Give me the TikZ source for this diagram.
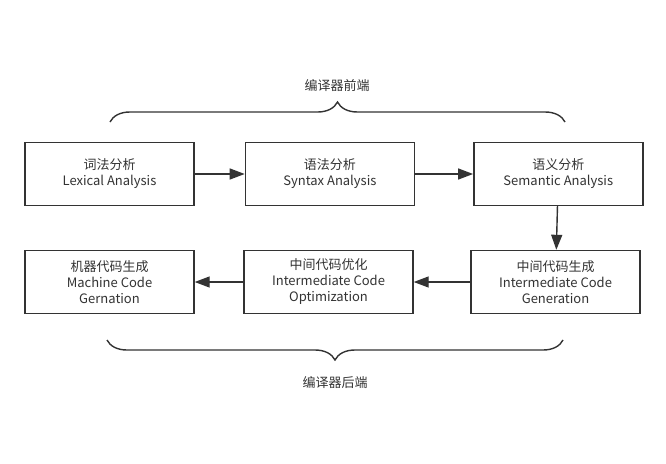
\documentclass[tikz,border=0pt]{standalone}
\usepackage{fontspec}
\setmainfont{Noto Sans CJK SC}
\usetikzlibrary{positioning, arrows.meta, decorations.pathreplacing}
\definecolor{linegray}{HTML}{333333}

\begin{document}
\begin{tikzpicture}[x=1pt,y=-1pt,>={Triangle[length=15pt,width=11pt]},semithick,
    stage/.style={draw=linegray,line width=1.4pt,fill=white,minimum width=169pt,minimum height=63pt,
        align=center,font=\fontsize{13}{16}\selectfont,text=linegray,inner sep=0pt},
    flow/.style={->,draw=linegray,line width=1.4pt},
    bracket/.style={draw=linegray,line width=1.4pt,decorate,decoration={brace,amplitude=20pt}},
    caption/.style={font=\fontsize{13}{16}\selectfont,text=linegray}]
            \useasboundingbox (0,0) rectangle (666,463);

            % front end
            \node[stage] (lex) at (109.5,174) {词法分析\\Lexical Analysis};
            \node[stage] (syn) [right = 50pt of lex] {语法分析\\Syntax Analysis};
            \node[stage] (sem) [right = 58pt of syn] {语义分析\\Semantic Analysis};

            % back end
            \node[stage] (gen) at (555.5,282) {中间代码生成\\Intermediate Code\\Generation};
            \node[stage] (opt) at (328.5,282) {中间代码优化\\Intermediate Code\\Optimization};
            \node[stage] (mach) at (109.5,282) {机器代码生成\\Machine Code\\Gernation};

            \path
            (lex) edge [flow] (syn)
            (syn) edge [flow] (sem)
            (sem) edge [flow] (gen)
            (gen) edge [flow] (opt)
            (opt) edge [flow] (mach)
            ;

            % braces
            \coordinate (fl) at (110,122);
            \coordinate (fr) at (565,122);
            \coordinate (bl) at (107,340);
            \coordinate (br) at (563,340);
            \draw[bracket] (fl) -- (fr);
            \draw[bracket] (br) -- (bl);
            \node[caption] (front) at (337,86) {编译器前端};
            \node[caption] (back) at (335,383) {编译器后端};
        \end{tikzpicture}
\end{document}
